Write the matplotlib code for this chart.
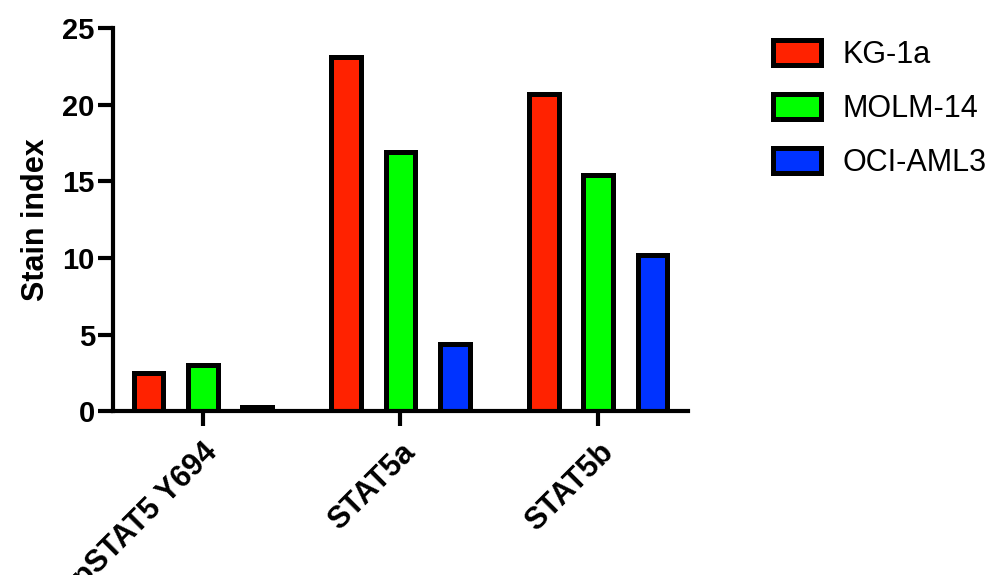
import numpy as np
import matplotlib.pyplot as plt

plt.rcParams['font.family'] = ['Liberation Sans', 'DejaVu Sans']

groups = ["pSTAT5 Y694", "STAT5a", "STAT5b"]
series = ["KG-1a", "MOLM-14", "OCI-AML3"]
kg1a = [2.5, 23.1, 20.7]
molm14 = [3.0, 16.9, 15.4]
ociaml3 = [0.3, 4.4, 10.2]
colors = ["#FF2200", "#00FF00", "#0033FF"]
yticks = [0, 5, 10, 15, 20, 25]

fig = plt.figure(figsize=(9.9, 5.75), dpi=100)
ax = fig.add_axes([0.114, 0.285, 0.581, 0.666])

x = np.arange(len(groups))
offs = [-0.275, 0, 0.275]
width = 0.15
for vals, name, c, o in zip([kg1a, molm14, ociaml3], series, colors, offs):
    ax.bar(x + o, vals, width, color=c, edgecolor="black", linewidth=3.6, label=name, zorder=2)

ax.set_xlim(-0.455, 2.455)
ax.set_ylim(0, 25)
ax.set_yticks(yticks)
ax.set_xticks(x)
ax.set_xticklabels(groups, rotation=45, ha="right", rotation_mode="anchor", fontsize=22, fontweight="bold")
for lab in ax.get_yticklabels():
    lab.set_fontsize(21)
    lab.set_fontweight("bold")
ax.set_ylabel("Stain index", fontsize=22, fontweight="bold", labelpad=8)

for s in ["top", "right"]:
    ax.spines[s].set_visible(False)
for s in ["left", "bottom"]:
    ax.spines[s].set_linewidth(3)
    ax.spines[s].set_zorder(3)
ax.tick_params(width=3, length=11, pad=2)
ax.tick_params(axis="x", pad=8)

# legend outside, right of the axes
fig.legend(loc="upper left", bbox_to_anchor=(0.781, 0.93), frameon=False, fontsize=22,
           borderpad=0, borderaxespad=0,
           handlelength=1.55, handleheight=0.85, labelspacing=0.78, handletextpad=0.72)

fig.savefig("out.png", dpi=100)
